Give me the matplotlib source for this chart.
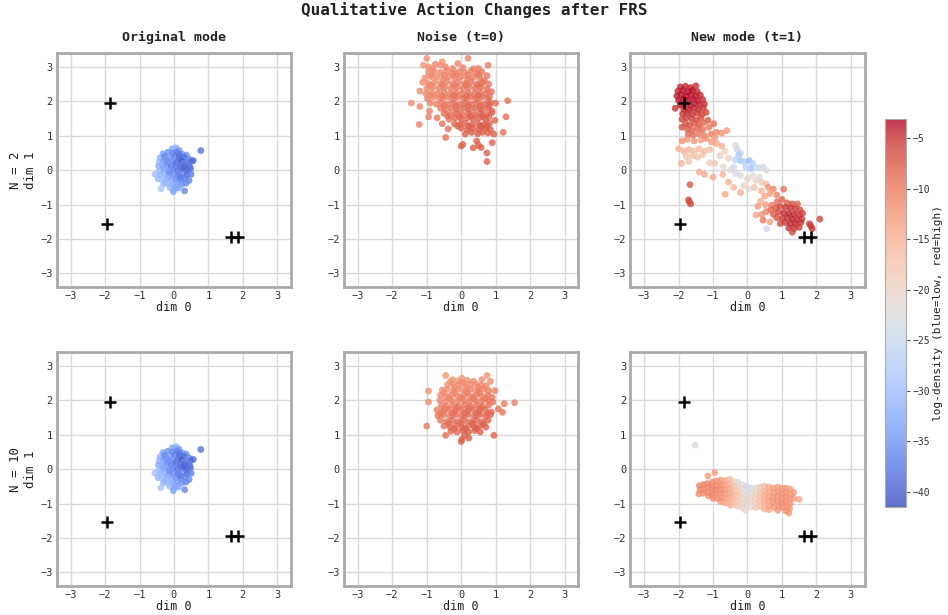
import numpy as np
import matplotlib
matplotlib.use("Agg")
from matplotlib import pyplot as plt

# colour range of the log-density scale
vmin, vmax = -41.5, -3.1

# target modes (black crosses), same in the original / new mode panels
targets_x = [-1.85, -1.95, 1.65, 1.85]
targets_y = [1.95, -1.55, -1.95, -1.95]

col_titles = ["Original mode", "Noise (t=0)", "New mode (t=1)"]
row_labels = ["N = 2", "N = 10"]
cbar_ticks = [-40, -35, -30, -25, -20, -15, -10, -5]

# (dim 0, dim 1, log-density)
original_pts = [
    (-0.05, 0.62, -33), (0.06, 0.65, -32), (0.15, 0.58, -34),
    (-0.32, 0.48, -33), (-0.18, 0.52, -35), (-0.04, 0.50, -36), (0.10, 0.53, -37), (0.24, 0.47, -34), (0.36, 0.44, -35),
    (-0.40, 0.36, -32), (-0.27, 0.40, -36), (-0.12, 0.37, -34), (0.02, 0.41, -37), (0.16, 0.36, -39), (0.30, 0.38, -38), (0.43, 0.33, -36),
    (-0.43, 0.24, -31), (-0.30, 0.27, -34), (-0.17, 0.22, -36), (-0.03, 0.28, -35), (0.10, 0.24, -38), (0.23, 0.27, -40), (0.36, 0.22, -37), (0.50, 0.26, -38),
    (-0.45, 0.12, -32), (-0.33, 0.10, -33), (-0.20, 0.15, -35), (-0.07, 0.10, -37), (0.06, 0.14, -36), (0.19, 0.10, -39), (0.32, 0.15, -38), (0.46, 0.10, -39), (0.56, 0.28, -39),
    (-0.42, -0.02, -31), (-0.29, 0.02, -33), (-0.16, -0.03, -35), (-0.03, 0.01, -36), (0.10, -0.02, -38), (0.23, 0.03, -37), (0.36, -0.01, -40), (0.48, 0.03, -38),
    (-0.55, -0.12, -30), (-0.40, -0.15, -31), (-0.27, -0.11, -32), (-0.14, -0.16, -34), (-0.01, -0.12, -35), (0.12, -0.15, -37), (0.25, -0.10, -36), (0.38, -0.14, -38), (0.50, -0.12, -37),
    (-0.46, -0.25, -31), (-0.33, -0.28, -30), (-0.20, -0.24, -32), (-0.07, -0.29, -33), (0.06, -0.25, -35), (0.19, -0.28, -36), (0.32, -0.24, -37), (0.44, -0.30, -36),
    (-0.30, -0.40, -31), (-0.17, -0.38, -30), (-0.04, -0.42, -32), (0.09, -0.38, -34), (0.22, -0.41, -35), (0.35, -0.38, -36),
    (-0.38, -0.54, -29), (-0.12, -0.50, -31), (0.00, -0.56, -32), (0.13, -0.52, -33), (0.31, -0.60, -36), (-0.02, -0.63, -33),
    (0.78, 0.57, -38),
    (-0.22, 0.31, -35), (0.16, 0.45, -38), (0.04, 0.20, -37), (0.28, 0.08, -39), (-0.12, -0.06, -35), (0.18, -0.20, -37), (-0.25, -0.34, -31), (0.05, -0.47, -33),
]

noise_n2_pts = [
    (-1.00, 3.25, -12), (0.20, 3.25, -11), (-0.55, 3.15, -11.5), (-0.60, 3.05, -12), (-0.85, 2.95, -12),
    (-1.10, 3.05, -12), (-0.75, 3.08, -11), (-0.45, 3.00, -11), (-0.25, 2.95, -11), (0.05, 2.98, -10.5), (0.35, 2.95, -10.5), (0.78, 3.05, -10),
    (-0.95, 2.85, -11.5), (-0.78, 2.88, -11.2), (-0.60, 2.84, -11), (-0.42, 2.88, -11), (-0.25, 2.82, -10.8), (-0.08, 2.86, -10.5), (0.10, 2.84, -10.5), (0.28, 2.88, -10.2), (0.45, 2.82, -10), (0.60, 2.86, -10),
    (-1.05, 2.68, -11.5), (-0.88, 2.72, -11.3), (-0.70, 2.70, -11), (-0.52, 2.66, -10.8), (-0.35, 2.72, -10.6), (-0.18, 2.68, -10.4), (0.00, 2.72, -10.2), (0.18, 2.66, -10), (0.36, 2.70, -9.8), (0.55, 2.66, -9.8), (0.75, 2.75, -9.8),
    (-1.12, 2.55, -11.5), (-0.95, 2.52, -11.2), (-0.78, 2.56, -11), (-0.60, 2.52, -10.7), (-0.42, 2.57, -10.4), (-0.25, 2.52, -10.2), (-0.08, 2.56, -10), (0.10, 2.52, -9.8), (0.28, 2.56, -9.6), (0.45, 2.50, -9.5), (0.62, 2.55, -9.5), (0.80, 2.50, -9.5),
    (-1.00, 2.38, -11.2), (-0.82, 2.42, -11), (-0.65, 2.38, -10.6), (-0.48, 2.42, -10.3), (-0.30, 2.38, -10), (-0.12, 2.42, -9.8), (0.05, 2.38, -9.6), (0.22, 2.42, -9.4), (0.40, 2.38, -9.2), (0.58, 2.42, -9.2), (0.75, 2.36, -9.2),
    (-1.20, 2.30, -11.5), (-1.02, 2.22, -11), (-0.85, 2.26, -10.8), (-0.68, 2.22, -10.4), (-0.50, 2.27, -10), (-0.32, 2.22, -9.8), (-0.15, 2.26, -9.5), (0.02, 2.22, -9.3), (0.20, 2.26, -9.1), (0.38, 2.22, -9), (0.55, 2.27, -9), (0.72, 2.22, -9), (0.88, 2.28, -9.2),
    (-0.98, 2.08, -11), (-0.80, 2.12, -10.6), (-0.62, 2.08, -10.2), (-0.45, 2.12, -9.8), (-0.28, 2.08, -9.5), (-0.10, 2.12, -9.2), (0.08, 2.08, -9), (0.25, 2.12, -8.8), (0.42, 2.08, -8.7), (0.60, 2.12, -8.7), (0.78, 2.06, -8.8),
    (-1.45, 1.95, -11.5), (-0.90, 1.95, -10.6), (-0.72, 1.92, -10.2), (-0.55, 1.96, -9.8), (-0.38, 1.92, -9.4), (-0.20, 1.96, -9.1), (-0.02, 1.92, -8.8), (0.15, 1.96, -8.6), (0.32, 1.92, -8.5), (0.50, 1.96, -8.5), (0.68, 1.92, -8.5), (0.85, 1.96, -8.6), (1.00, 1.95, -9),
    (-1.20, 1.85, -11), (-0.60, 1.80, -9.8), (-0.45, 1.76, -9.5), (-0.28, 1.80, -9), (-0.10, 1.76, -8.7), (0.08, 1.80, -8.4), (0.25, 1.76, -8.3), (0.42, 1.80, -8.2), (0.60, 1.76, -8.2), (0.78, 1.80, -8.3), (0.90, 1.72, -8.5),
    (-0.92, 1.72, -10.5), (-0.50, 1.65, -9.5), (-0.32, 1.62, -9), (-0.15, 1.66, -8.6), (0.02, 1.62, -8.3), (0.20, 1.66, -8.1), (0.38, 1.62, -8), (0.55, 1.66, -8), (0.72, 1.62, -8.1), (0.88, 1.66, -8.3),
    (-0.95, 1.55, -10.5), (-0.70, 1.52, -9.8), (-0.35, 1.48, -9), (-0.18, 1.52, -8.6), (0.00, 1.48, -8.2), (0.18, 1.52, -8), (0.35, 1.48, -7.8), (0.52, 1.52, -7.8), (0.70, 1.48, -7.9), (0.98, 1.45, -8.3), (1.30, 1.55, -9),
    (-1.22, 1.33, -10.8), (-0.55, 1.35, -9.3), (-0.20, 1.35, -8.5), (-0.05, 1.32, -8.2), (0.12, 1.36, -8), (0.30, 1.32, -7.8), (0.48, 1.36, -7.7), (0.65, 1.32, -7.7), (0.82, 1.36, -7.8),
    (-0.38, 1.20, -9), (0.00, 1.22, -8.3), (0.18, 1.18, -8), (0.35, 1.22, -7.8), (0.52, 1.18, -7.6), (0.70, 1.22, -7.6), (0.85, 1.18, -7.8),
    (0.12, 1.05, -8), (0.30, 1.10, -7.8), (0.48, 1.06, -7.7), (0.62, 1.10, -7.7), (0.78, 1.08, -7.8), (0.95, 1.05, -8), (1.22, 1.10, -8.8),
    (-0.45, 0.95, -9), (0.45, 0.85, -7.8), (0.90, 0.80, -8), (0.00, 0.70, -8.2), (0.05, 0.75, -8.2), (0.35, 0.65, -7.9),
    (0.50, 0.72, -7.8), (0.58, 0.66, -7.8), (0.75, 0.50, -8), (0.75, 0.25, -8.2), (1.35, 2.02, -9.5),
    (-0.85, 2.78, -11.3), (-0.50, 2.76, -10.9), (-0.15, 2.78, -10.6), (0.20, 2.76, -10.3), (0.52, 2.78, -10),
    (-0.90, 2.46, -11.1), (-0.55, 2.48, -10.6), (-0.20, 2.46, -10.1), (0.15, 2.48, -9.7), (0.50, 2.46, -9.4), (0.68, 2.60, -9.7),
    (-0.90, 2.17, -10.8), (-0.55, 2.15, -10.1), (-0.20, 2.17, -9.4), (0.15, 2.15, -9), (0.50, 2.17, -8.8), (0.82, 2.14, -9),
    (-0.50, 1.87, -9.6), (-0.15, 1.86, -9), (0.20, 1.87, -8.5), (0.55, 1.86, -8.3), (0.82, 1.88, -8.4),
    (-0.40, 1.57, -9.2), (-0.05, 1.56, -8.4), (0.28, 1.57, -8), (0.62, 1.56, -7.9), (0.80, 1.55, -8),
    (-0.10, 1.28, -8.3), (0.22, 1.27, -7.9), (0.56, 1.28, -7.7), (0.75, 1.28, -7.7),
    (-0.95, 3.00, -11.8), (0.50, 2.96, -10.2), (-0.10, 3.10, -11),
]

noise_n10_pts = [
    (-0.45, 2.72, -12.5), (0.75, 2.72, -12), (-0.25, 2.60, -12.5), (0.02, 2.64, -12.3), (0.18, 2.58, -12), (0.60, 2.60, -11.8), (-0.10, 2.56, -12.3), (0.85, 2.55, -11.5),
    (-0.40, 2.45, -12.2), (-0.25, 2.48, -12), (-0.08, 2.44, -11.8), (0.08, 2.48, -11.6), (0.25, 2.44, -11.5), (0.42, 2.48, -11.3), (0.58, 2.44, -11.2), (0.72, 2.42, -11),
    (-0.95, 2.27, -12), (-0.55, 2.30, -11.8), (-0.40, 2.32, -11.7), (-0.22, 2.28, -11.5), (-0.05, 2.32, -11.3), (0.12, 2.28, -11.1), (0.30, 2.32, -10.9), (0.48, 2.28, -10.8), (0.65, 2.32, -10.6), (0.80, 2.28, -10.5), (0.98, 2.28, -10.5),
    (-0.60, 2.15, -11.5), (-0.45, 2.12, -11.3), (-0.28, 2.16, -11), (-0.10, 2.12, -10.8), (0.08, 2.16, -10.6), (0.25, 2.12, -10.4), (0.42, 2.16, -10.2), (0.60, 2.12, -10), (0.78, 2.16, -10), (0.90, 2.08, -10),
    (-0.95, 1.95, -11.5), (-0.62, 2.00, -11), (-0.45, 1.97, -10.8), (-0.28, 2.00, -10.5), (-0.10, 1.97, -10.2), (0.08, 2.00, -10), (0.25, 1.97, -9.8), (0.42, 2.00, -9.6), (0.60, 1.97, -9.5), (0.78, 2.00, -9.5), (0.92, 1.95, -9.6),
    (-0.58, 1.85, -10.5), (-0.42, 1.82, -10.2), (-0.25, 1.86, -10), (-0.08, 1.82, -9.7), (0.10, 1.86, -9.5), (0.28, 1.82, -9.3), (0.45, 1.86, -9.2), (0.62, 1.82, -9.1), (0.80, 1.86, -9.2), (1.25, 1.90, -10), (1.55, 1.93, -10.5),
    (-0.70, 1.72, -10.3), (-0.52, 1.68, -10), (-0.35, 1.72, -9.7), (-0.18, 1.68, -9.4), (0.00, 1.72, -9.2), (0.18, 1.68, -9), (0.35, 1.72, -8.8), (0.52, 1.68, -8.7), (0.70, 1.72, -8.8), (0.88, 1.66, -8.9), (1.20, 1.65, -9.5), (1.08, 1.75, -9.5),
    (-0.68, 1.55, -9.8), (-0.50, 1.58, -9.6), (-0.32, 1.54, -9.3), (-0.15, 1.58, -9), (0.02, 1.54, -8.8), (0.20, 1.58, -8.6), (0.38, 1.54, -8.5), (0.55, 1.58, -8.4), (0.72, 1.54, -8.5), (0.85, 1.58, -8.6),
    (-0.60, 1.42, -9.5), (-0.42, 1.38, -9.2), (-0.25, 1.42, -8.9), (-0.08, 1.38, -8.6), (0.10, 1.42, -8.4), (0.28, 1.38, -8.3), (0.45, 1.42, -8.2), (0.62, 1.38, -8.2), (0.78, 1.42, -8.3),
    (-1.00, 1.25, -9.8), (-0.50, 1.25, -9.2), (-0.32, 1.22, -8.8), (-0.15, 1.26, -8.5), (0.02, 1.22, -8.3), (0.20, 1.26, -8.1), (0.38, 1.22, -8), (0.55, 1.26, -8), (0.72, 1.22, -8.1),
    (-0.30, 1.10, -8.6), (-0.12, 1.08, -8.4), (0.05, 1.12, -8.2), (0.22, 1.08, -8), (0.40, 1.12, -7.9), (0.55, 1.08, -7.9),
    (-0.45, 0.98, -8.8), (0.95, 0.98, -8.2), (0.00, 0.80, -8), (0.02, 0.86, -8), (0.22, 0.90, -7.9), (0.10, 0.98, -8),
    (-0.32, 2.54, -12.1), (0.00, 2.52, -11.8), (0.35, 2.55, -11.5), (0.50, 2.38, -11), (0.15, 2.38, -11.3), (-0.20, 2.38, -11.6),
    (-0.50, 2.22, -11.5), (-0.18, 2.22, -11), (0.18, 2.22, -10.6), (0.52, 2.22, -10.2), (0.70, 2.05, -9.8), (0.35, 2.07, -10),
    (0.00, 2.07, -10.4), (-0.35, 2.07, -10.8), (-0.50, 1.77, -10.1), (-0.15, 1.77, -9.5), (0.20, 1.77, -9.1), (0.55, 1.77, -8.9),
    (0.78, 1.62, -8.7), (0.45, 1.62, -8.6), (0.10, 1.62, -8.9), (-0.25, 1.62, -9.3), (-0.60, 1.62, -9.8), (-0.35, 1.32, -8.9),
    (0.00, 1.32, -8.4), (0.35, 1.32, -8.1), (0.65, 1.30, -8.1), (0.12, 1.17, -8.1), (-0.20, 1.17, -8.5), (0.45, 1.18, -7.9),
]

new_n2_pts = [
    # upper-left cluster
    (-1.95, 2.42, -4.5), (-1.80, 2.44, -4.2), (-1.65, 2.40, -4.3), (-1.50, 2.45, -4.8),
    (-2.02, 2.30, -4.2), (-1.88, 2.32, -3.8), (-1.74, 2.28, -3.6), (-1.60, 2.32, -3.7), (-1.46, 2.28, -4.2),
    (-2.05, 2.16, -4.0), (-1.92, 2.19, -3.6), (-1.78, 2.15, -3.4), (-1.64, 2.19, -3.5), (-1.50, 2.15, -3.8), (-1.37, 2.18, -4.4),
    (-2.00, 2.03, -3.8), (-1.86, 2.06, -3.5), (-1.72, 2.02, -3.4), (-1.58, 2.06, -3.6), (-1.44, 2.02, -3.9), (-1.30, 2.05, -4.6),
    (-2.10, 1.80, -5.0), (-1.95, 1.90, -3.8), (-1.80, 1.93, -3.6), (-1.66, 1.89, -3.7), (-1.52, 1.93, -4.0), (-1.38, 1.89, -4.4), (-1.25, 1.92, -5.0),
    (-1.85, 1.78, -4.2), (-1.70, 1.76, -4.0), (-1.56, 1.80, -4.3), (-1.42, 1.76, -4.7), (-1.28, 1.80, -5.2),
    (-1.88, 1.64, -5.0), (-1.75, 1.66, -4.8), (-1.60, 1.62, -5.0), (-1.46, 1.66, -5.5), (-1.32, 1.62, -6.0), (-1.20, 1.68, -6.3),
    (-1.90, 1.48, -6.0), (-1.77, 1.52, -5.8), (-1.62, 1.50, -6.0), (-1.48, 1.46, -6.5), (-1.35, 1.52, -7.0), (-1.15, 1.45, -7.5), (-0.98, 1.35, -9.0),
    (-1.80, 1.35, -6.8), (-1.68, 1.32, -7.0), (-1.55, 1.36, -7.3), (-1.40, 1.32, -7.8), (-1.28, 1.38, -8.3), (-1.90, 1.25, -7.0),
    (-1.75, 1.20, -7.5), (-1.60, 1.16, -8.0), (-1.45, 1.22, -8.5), (-1.30, 1.18, -9.0), (-1.12, 1.25, -9.5), (-1.05, 1.05, -10.5),
    (-1.72, 1.05, -8.5), (-1.58, 1.02, -9.0), (-1.42, 1.06, -9.5), (-1.25, 1.00, -10.0), (-0.90, 1.10, -11.0), (-0.75, 1.08, -12.0), (-0.60, 1.15, -12.5),
    # transition towards the centre
    (-1.90, 0.85, -12.5), (-1.75, 0.90, -12.0), (-1.55, 0.85, -12.5), (-1.35, 0.88, -13.0), (-1.20, 0.92, -12.0), (-1.05, 0.82, -13.5), (-0.90, 0.78, -14.0), (-0.95, 0.95, -13.0),
    (-2.00, 0.62, -15.0), (-1.85, 0.55, -16.0), (-1.70, 0.60, -15.5), (-1.55, 0.55, -16.5), (-1.40, 0.62, -16.0), (-1.25, 0.55, -17.0), (-1.78, 0.40, -17.0),
    (-1.60, 0.42, -17.5), (-1.45, 0.38, -17.0), (-1.30, 0.45, -17.5), (-1.92, 0.20, -16.0), (-1.70, 0.25, -18.0), (-1.10, 0.60, -17.0),
    (-0.75, 0.70, -15.0), (-0.65, 0.55, -19.0), (-0.55, 0.35, -20.0), (-0.80, 0.42, -19.0), (-0.95, 0.20, -18.0), (-1.10, 0.22, -19.0),
    (-0.70, 0.10, -21.0), (-0.50, 0.00, -22.0), (-0.35, 0.72, -22.0), (-0.30, 0.60, -25.0), (-0.20, 0.50, -23.0),
    (-0.25, 0.45, -28.0), (-0.20, 0.28, -29.0), (-0.10, 0.25, -27.0), (0.05, 0.28, -30.0), (0.15, 0.20, -27.0), (0.10, 0.05, -29.0),
    (-0.05, 0.10, -26.0), (-0.35, 0.30, -26.0), (-0.40, 0.08, -24.0), (0.30, 0.08, -25.0), (0.45, 0.10, -24.0), (0.55, 0.00, -22.0),
    (-0.20, -0.15, -22.0), (-0.35, -0.10, -23.0), (0.00, -0.25, -21.0), (0.15, -0.15, -22.0), (0.35, -0.20, -22.0), (0.25, -0.30, -20.0),
    (-0.10, -0.45, -19.0), (0.05, -0.55, -21.0), (0.20, -0.50, -18.0), (0.42, -0.35, -18.0), (0.55, -0.40, -17.0), (0.40, -0.60, -16.0),
    (-1.40, -0.05, -15.0), (-1.25, -0.12, -14.0), (-1.00, -0.20, -14.5), (-0.72, -0.12, -16.0), (-0.55, -0.35, -15.0), (-0.40, -0.50, -16.0),
    (-0.65, -0.70, -14.0), (-0.20, -0.65, -15.0),
    (-1.67, -0.42, -7.5), (-1.71, -0.86, -6.5), (-1.69, -0.92, -6.5), (-1.65, -0.98, -6.5),
    # lower-right cluster
    (0.60, -0.50, -12.0), (0.75, -0.55, -11.0), (0.65, -0.68, -13.0), (0.50, -0.75, -14.0), (0.85, -0.72, -11.0), (1.05, -0.55, -9.5), (0.38, -0.90, -15.0), (0.52, -1.00, -13.0),
    (0.30, -1.05, -13.0), (0.25, -1.30, -13.5), (0.42, -1.28, -12.0), (0.55, -1.20, -10.5), (0.70, -1.02, -10.0), (0.85, -0.92, -9.0), (1.00, -0.85, -8.0), (1.15, -0.95, -7.5), (1.30, -0.98, -7.0), (1.45, -0.98, -8.0),
    (0.68, -1.15, -9.0), (0.82, -1.10, -7.5), (0.95, -1.05, -6.5), (1.10, -1.08, -5.5), (1.25, -1.10, -5.0), (1.40, -1.12, -5.5), (1.52, -1.15, -6.5),
    (0.75, -1.28, -8.0), (0.90, -1.22, -6.5), (1.05, -1.24, -5.0), (1.20, -1.26, -4.3), (1.35, -1.28, -4.2), (1.50, -1.30, -5.0), (1.60, -1.25, -6.0),
    (0.85, -1.38, -7.0), (1.00, -1.40, -5.5), (1.15, -1.38, -4.5), (1.30, -1.42, -4.0), (1.45, -1.44, -4.2), (1.58, -1.42, -5.0),
    (0.95, -1.55, -6.5), (1.10, -1.52, -5.0), (1.25, -1.55, -4.3), (1.40, -1.56, -4.4), (1.55, -1.52, -5.0),
    (1.20, -1.68, -5.0), (1.35, -1.70, -5.0), (1.50, -1.66, -5.5), (1.30, -1.80, -6.5),
    (0.65, -1.50, -13.0), (0.56, -1.70, -24.0), (0.45, -1.45, -10.0),
    (2.10, -1.42, -6.0), (1.80, -1.56, -5.5), (1.84, -1.62, -5.5), (1.88, -1.70, -5.0),
]

new_n10_pts = [
    (-1.40, -0.48, -11.5), (-1.38, -0.60, -11.2), (-1.41, -0.72, -11.5),
    (-1.28, -0.45, -11.0), (-1.27, -0.58, -11.3), (-1.29, -0.70, -11.0),
    (-1.15, -0.20, -13.0), (-1.16, -0.42, -11.2), (-1.14, -0.55, -10.8), (-1.15, -0.68, -11.0), (-1.13, -0.78, -11.4),
    (-0.95, -0.10, -13.0), (-1.02, -0.38, -11.5), (-1.03, -0.50, -11.0), (-1.01, -0.63, -10.8), (-1.02, -0.76, -11.2), (-1.00, -0.85, -11.6),
    (-0.90, -0.35, -11.8), (-0.89, -0.48, -11.3), (-0.91, -0.60, -11.0), (-0.90, -0.72, -11.4), (-0.88, -0.85, -11.8),
    (-0.78, -0.32, -12.5), (-0.77, -0.45, -12.0), (-0.79, -0.58, -11.6), (-0.78, -0.70, -11.8), (-0.76, -0.82, -12.2), (-0.78, -0.94, -12.5),
    (-0.65, -0.33, -14.0), (-0.64, -0.46, -13.0), (-0.66, -0.60, -12.6), (-0.65, -0.72, -12.8), (-0.63, -0.85, -13.2), (-0.65, -0.98, -13.5),
    (-0.52, -0.30, -16.0), (-0.51, -0.44, -15.0), (-0.53, -0.57, -14.2), (-0.52, -0.70, -14.0), (-0.50, -0.83, -14.5), (-0.52, -0.97, -15.0), (-0.50, -1.05, -15.5),
    (-0.40, -0.36, -18.0), (-0.39, -0.50, -16.5), (-0.41, -0.63, -15.8), (-0.40, -0.76, -15.5), (-0.38, -0.90, -16.0), (-0.40, -1.03, -16.5),
    (-0.28, -0.38, -23.0), (-0.27, -0.52, -19.0), (-0.29, -0.65, -18.0), (-0.28, -0.78, -17.5), (-0.26, -0.92, -18.0), (-0.28, -1.08, -18.5),
    (-0.15, -0.45, -22.0), (-0.14, -0.58, -21.0), (-0.16, -0.72, -20.0), (-0.15, -0.86, -19.5), (-0.13, -1.00, -20.0), (-0.15, -1.12, -20.5),
    (-0.03, -0.50, -24.0), (-0.02, -0.64, -22.5), (-0.04, -0.78, -21.0), (-0.03, -0.92, -20.5), (-0.01, -1.05, -21.0), (-0.05, -1.20, -21.5),
    (0.10, -0.55, -24.0), (0.11, -0.68, -22.5), (0.09, -0.82, -21.0), (0.10, -0.96, -20.5), (0.12, -1.10, -21.0),
    (0.23, -0.55, -21.5), (0.24, -0.70, -20.0), (0.22, -0.84, -19.0), (0.23, -0.98, -18.5), (0.25, -1.12, -19.0),
    (0.36, -0.52, -18.5), (0.37, -0.66, -17.5), (0.35, -0.80, -17.0), (0.36, -0.94, -16.5), (0.38, -1.08, -17.0),
    (0.49, -0.50, -16.0), (0.50, -0.64, -15.5), (0.48, -0.78, -15.0), (0.49, -0.92, -14.8), (0.51, -1.06, -15.0), (0.49, -1.16, -15.5),
    (0.62, -0.52, -14.5), (0.63, -0.66, -14.0), (0.61, -0.80, -13.5), (0.62, -0.94, -13.2), (0.64, -1.08, -13.5), (0.62, -1.18, -14.0),
    (0.75, -0.55, -13.5), (0.76, -0.68, -13.0), (0.74, -0.82, -12.5), (0.75, -0.96, -12.3), (0.77, -1.10, -12.5),
    (0.88, -0.52, -13.0), (0.89, -0.66, -12.5), (0.87, -0.80, -12.0), (0.88, -0.94, -11.8), (0.90, -1.08, -12.0), (0.88, -1.20, -12.5),
    (1.00, -0.56, -12.8), (1.01, -0.70, -12.2), (0.99, -0.84, -11.8), (1.00, -0.98, -11.6), (1.02, -1.12, -12.0),
    (1.12, -0.55, -13.0), (1.13, -0.68, -12.5), (1.11, -0.82, -12.0), (1.12, -0.96, -11.8), (1.14, -1.10, -12.2), (1.12, -1.22, -12.5),
    (1.24, -0.58, -13.0), (1.25, -0.72, -12.6), (1.23, -0.86, -12.3), (1.24, -1.00, -12.3), (1.22, -1.15, -12.6), (1.20, -1.28, -12.8),
    (1.34, -0.68, -13.2), (1.35, -0.85, -13.0),
    (1.50, -0.88, -14.0), (-1.52, 0.70, -23.0),
]

plt.rcParams["font.family"] = "DejaVu Sans Mono"
plt.rcParams["text.color"] = "#222222"
plt.rcParams["axes.labelcolor"] = "#222222"

fig = plt.figure(figsize=(9.48, 6.15), dpi=100)

lefts = [0.060, 0.363, 0.665]
bottoms = [0.533, 0.047]
panels = [
    [original_pts, noise_n2_pts, new_n2_pts],
    [original_pts, noise_n10_pts, new_n10_pts],
]

sc = None
for r in range(2):
    for c in range(3):
        ax = fig.add_axes([lefts[c], bottoms[r], 0.247, 0.3805])
        pts = np.array(panels[r][c])
        sc = ax.scatter(pts[:, 0], pts[:, 1], c=pts[:, 2], cmap="coolwarm",
                        vmin=vmin, vmax=vmax, s=24, alpha=0.8, linewidths=0, zorder=2)
        if c != 1:
            ax.plot(targets_x, targets_y, "k+", ms=9, mew=1.8, zorder=3)
        ax.set_xlim(-3.4, 3.4)
        ax.set_ylim(-3.4, 3.4)
        ax.set_xticks(range(-3, 4))
        ax.set_yticks(range(-3, 4))
        ax.set_axisbelow(True)
        ax.grid(True, color="#d9d9d9", lw=1.0)
        ax.tick_params(length=0, labelsize=7.5, pad=3, labelcolor="#333333")
        for s in ax.spines.values():
            s.set_color("#aaaaaa")
            s.set_linewidth(2)
        ax.set_xlabel("dim 0", fontsize=8.5, labelpad=0)
        if r == 0:
            ax.set_title(col_titles[c], fontsize=9.5, fontweight="bold", pad=9)
        if c == 0:
            ax.set_ylabel(f"{row_labels[r]}\ndim 1", fontsize=9, labelpad=2)

cax = fig.add_axes([0.9336, 0.1756, 0.0222, 0.631])
cb = fig.colorbar(sc, cax=cax, ticks=cbar_ticks)
cb.set_label("log-density (blue=low, red=high)", fontsize=8, labelpad=2)
cb.outline.set_edgecolor("#aaaaaa")
cb.ax.tick_params(labelsize=7, labelcolor="#333333", color="#555555", length=3, pad=2)

fig.text(0.5, 0.983, "Qualitative Action Changes after FRS", ha="center", va="center",
         fontsize=11.5, fontweight="bold")

fig.savefig("out.png", dpi=100)
